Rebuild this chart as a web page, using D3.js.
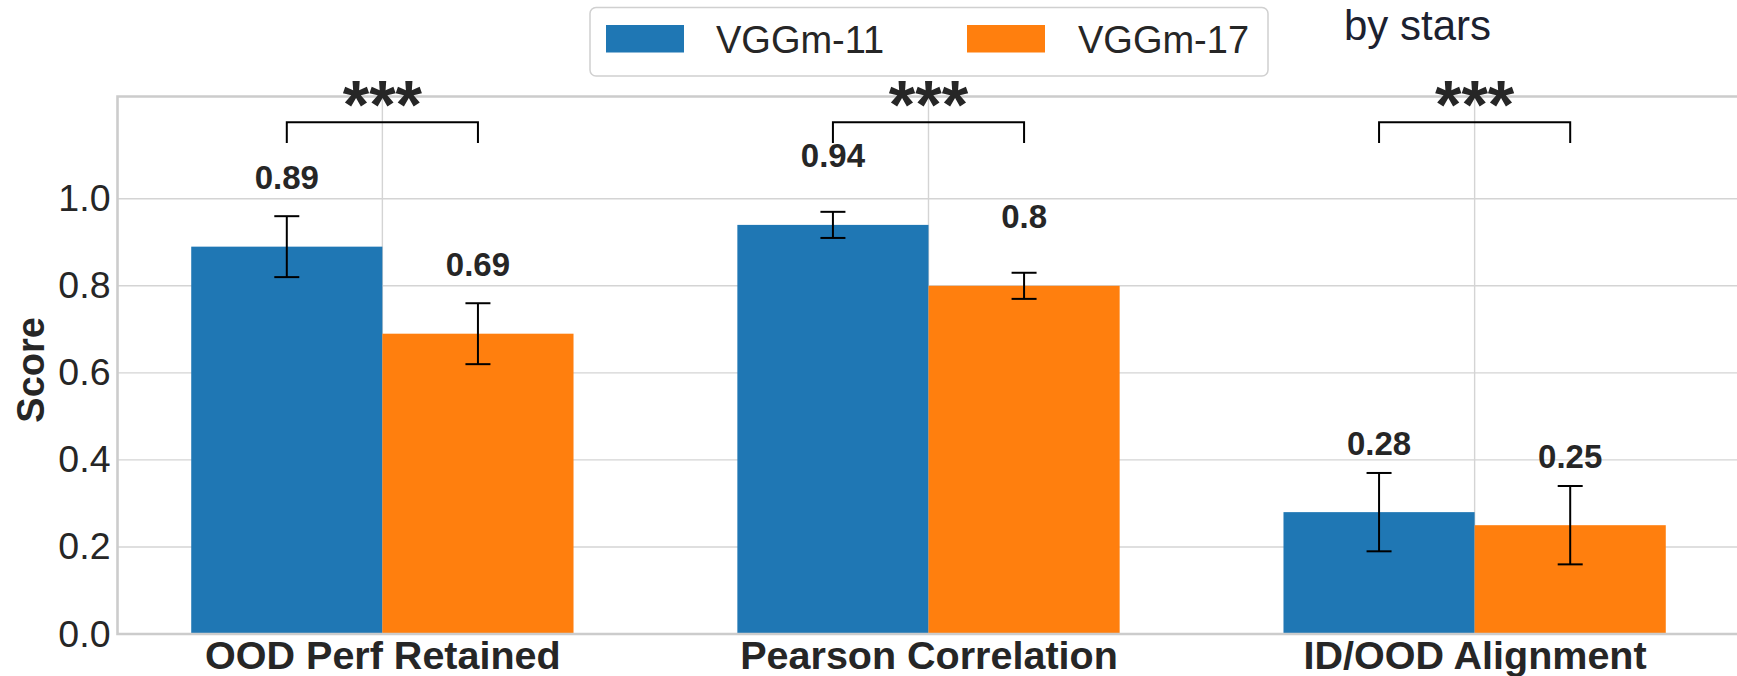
<!DOCTYPE html>
<html>
<head>
<meta charset="utf-8">
<script src="https://cdn.jsdelivr.net/npm/d3@7"></script>
<style>
  html, body { margin: 0; padding: 0; background: #ffffff; }
  svg { display: block; }
  text { font-family: "Liberation Sans", Arial, sans-serif; }
</style>
</head>
<body>
<svg id="chart" width="1737" height="676"></svg>
<script>
// Metrics compared between the two models
const categories = ["OOD Perf Retained", "Pearson Correlation", "ID/OOD Alignment"];
const seriesNames = ["VGGm-11", "VGGm-17"];
const vggm11Means = [0.89, 0.94, 0.28];
const vggm11Errors = [0.07, 0.03, 0.09];
const vggm17Means = [0.69, 0.80, 0.25];
const vggm17Errors = [0.07, 0.03, 0.09];
const valueLabels11 = ["0.89", "0.94", "0.28"];
const valueLabels17 = ["0.69", "0.8", "0.25"];
const significance = ["***", "***", "***"];
const yTicks = [0.0, 0.2, 0.4, 0.6, 0.8, 1.0];
const yMax = 1.235;

const colors = ["#1f77b4", "#ff7f0e"];
const textColor = "#262626";
const gridColor = "#d4d4d4";

const svg = d3.select("#chart");

const barWidth = 0.35;
const pad = (categories.length - 1 + 2 * barWidth) * 0.05;
const x = d3.scaleLinear()
  .domain([-barWidth - pad, categories.length - 1 + barWidth + pad])
  .range([117.5, 1739.5]);
const y = d3.scaleLinear().domain([0, yMax]).range([634, 96.5]);

const plotLeft = x.range()[0], plotRight = x.range()[1];
const plotTop = y.range()[1], plotBottom = y.range()[0];

// grid
const grid = svg.append("g");
grid.selectAll("line.hgrid").data(yTicks).join("line")
  .attr("x1", plotLeft).attr("x2", plotRight)
  .attr("y1", d => y(d)).attr("y2", d => y(d))
  .attr("stroke", gridColor).attr("stroke-width", 1.4);
grid.selectAll("line.vgrid").data(categories.map((c, i) => i)).join("line")
  .attr("x1", d => x(d)).attr("x2", d => x(d))
  .attr("y1", plotTop).attr("y2", plotBottom)
  .attr("stroke", gridColor).attr("stroke-width", 1.4);

// bars
const series = [
  { name: seriesNames[0], means: vggm11Means, errs: vggm11Errors, labels: valueLabels11, offset: -barWidth / 2, color: colors[0] },
  { name: seriesNames[1], means: vggm17Means, errs: vggm17Errors, labels: valueLabels17, offset: barWidth / 2, color: colors[1] }
];

series.forEach(s => {
  const g = svg.append("g");
  const data = s.means.map((m, i) => ({ i, m, e: s.errs[i], label: s.labels[i] }));
  g.selectAll("rect").data(data).join("rect")
    .attr("x", d => x(d.i + s.offset - barWidth / 2))
    .attr("width", d => x(d.i + s.offset + barWidth / 2) - x(d.i + s.offset - barWidth / 2))
    .attr("y", d => y(d.m))
    .attr("height", d => y(0) - y(d.m))
    .attr("fill", s.color);

  // error bars
  const cap = 12.5;
  const eg = g.selectAll("g.err").data(data).join("g");
  eg.append("line")
    .attr("x1", d => x(d.i + s.offset)).attr("x2", d => x(d.i + s.offset))
    .attr("y1", d => y(d.m - d.e)).attr("y2", d => y(d.m + d.e))
    .attr("stroke", "#000").attr("stroke-width", 2);
  eg.append("line")
    .attr("x1", d => x(d.i + s.offset) - cap).attr("x2", d => x(d.i + s.offset) + cap)
    .attr("y1", d => y(d.m + d.e)).attr("y2", d => y(d.m + d.e))
    .attr("stroke", "#000").attr("stroke-width", 2);
  eg.append("line")
    .attr("x1", d => x(d.i + s.offset) - cap).attr("x2", d => x(d.i + s.offset) + cap)
    .attr("y1", d => y(d.m - d.e)).attr("y2", d => y(d.m - d.e))
    .attr("stroke", "#000").attr("stroke-width", 2);

  // value labels
  g.selectAll("text.val").data(data).join("text")
    .attr("x", d => x(d.i + s.offset))
    .attr("y", d => y(d.m + 0.153) + 9)
    .attr("text-anchor", "middle")
    .attr("font-size", 33).attr("font-weight", "bold")
    .attr("fill", textColor)
    .text(d => d.label);
});

// axes frame (left, top, bottom)
svg.append("path")
  .attr("d", `M${plotRight},${plotTop}H${plotLeft}V${plotBottom}H${plotRight}`)
  .attr("fill", "none").attr("stroke", "#cccccc").attr("stroke-width", 2.6);

// y axis ticks
const yAxis = d3.axisLeft(y).tickValues(yTicks).tickFormat(d3.format(".1f")).tickSize(0).tickPadding(7);
const ya = svg.append("g").attr("transform", `translate(${plotLeft},0)`).call(yAxis);
ya.select(".domain").remove();
ya.selectAll("text").attr("font-size", 37.5).attr("fill", textColor)
  .attr("font-family", "Liberation Sans, Arial, sans-serif");

// x axis labels
const xAxis = d3.axisBottom(x).tickValues(categories.map((c, i) => i))
  .tickFormat(i => categories[i]).tickSize(0).tickPadding(7);
const xa = svg.append("g").attr("transform", `translate(0,${plotBottom})`).call(xAxis);
xa.select(".domain").remove();
xa.selectAll("text").attr("font-size", 39.5).attr("font-weight", "bold").attr("fill", textColor)
  .attr("font-family", "Liberation Sans, Arial, sans-serif");

// y axis title
svg.append("text")
  .attr("transform", `translate(43.5,${y(0.6) - 3}) rotate(-90)`)
  .attr("text-anchor", "middle")
  .attr("font-size", 38).attr("font-weight", "bold").attr("fill", textColor)
  .text("Score");

// significance brackets
const bracketY = 1.176, legY = 1.128;
const sig = svg.append("g");
categories.forEach((c, i) => {
  const x1 = x(i - barWidth / 2), x2 = x(i + barWidth / 2);
  sig.append("path")
    .attr("d", `M${x1},${y(legY)}V${y(bracketY)}H${x2}V${y(legY)}`)
    .attr("fill", "none").attr("stroke", "#000").attr("stroke-width", 2);
  sig.append("text")
    .attr("x", x(i)).attr("y", y(1.227) + 28)
    .attr("text-anchor", "middle")
    .attr("font-size", 68).attr("font-weight", "bold").attr("fill", textColor)
    .text(significance[i]);
});

// legend
const legend = svg.append("g");
legend.append("rect")
  .attr("x", 590).attr("y", 7.5).attr("width", 678).attr("height", 68.5)
  .attr("rx", 6).attr("fill", "#fff").attr("fill-opacity", 0.8)
  .attr("stroke", "#d0d0d0").attr("stroke-width", 1.5);
const legendItems = [
  { name: seriesNames[0], color: colors[0], px: 606, tx: 716 },
  { name: seriesNames[1], color: colors[1], px: 967, tx: 1078 }
];
legendItems.forEach(it => {
  legend.append("rect").attr("x", it.px).attr("y", 25).attr("width", 78).attr("height", 27.5).attr("fill", it.color);
  legend.append("text").attr("x", it.tx).attr("y", 52.5)
    .attr("font-size", 38).attr("fill", textColor).text(it.name);
});

// trailing note
svg.append("text")
  .attr("x", 1344).attr("y", 40)
  .attr("font-size", 42).attr("fill", "#1c2130")
  .text("by stars");
</script>
</body>
</html>
